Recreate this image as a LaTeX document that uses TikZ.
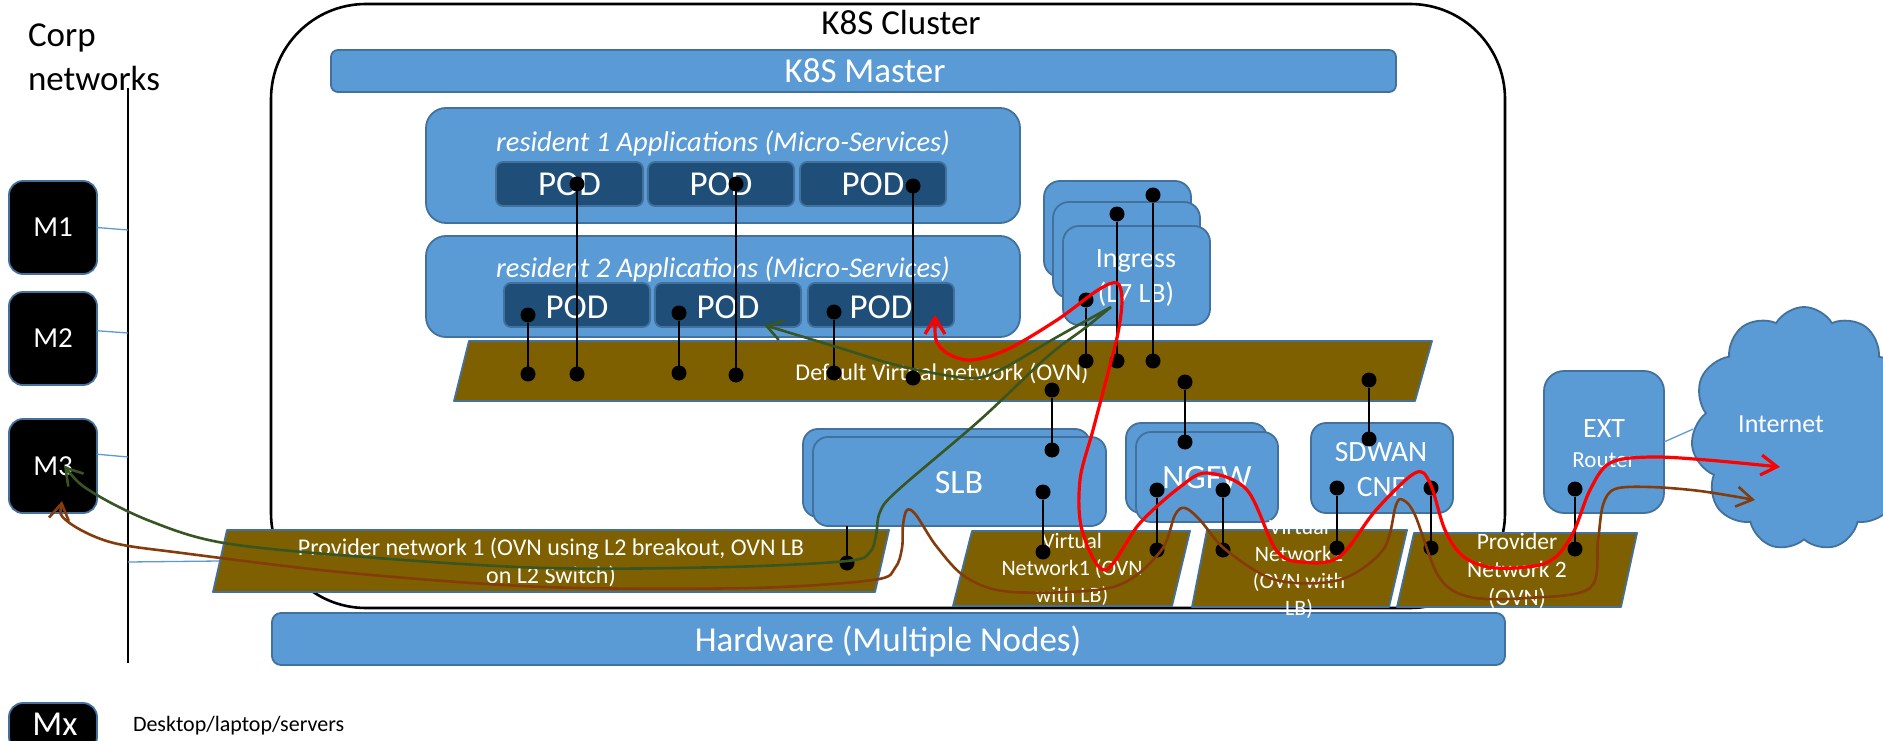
\documentclass[tikz,border=0pt]{standalone}
\usepackage{fontspec}
\setmainfont{Carlito}
\usetikzlibrary{shapes.symbols,arrows.meta}
\definecolor{blueF}{HTML}{5B9BD5}
\definecolor{blueD}{HTML}{41719C}
\definecolor{podF}{HTML}{1F4E79}
\definecolor{bandF}{HTML}{7F6000}
\definecolor{flowG}{HTML}{375623}
\definecolor{flowB}{HTML}{843C0C}
\newcommand\fsz[2]{\fontsize{#1}{#2}\selectfont}
\tikzset{
  box/.style={draw=blueD, fill=blueF, line width=1.8pt, rounded corners=#1,
    anchor=north west, inner sep=0pt, outer sep=0pt},
  podbox/.style={draw=blueD, fill=podF, line width=1.8pt, rounded corners=7pt,
    anchor=north west, inner sep=0pt, outer sep=0pt, minimum height=44pt},
  mbox/.style={draw=blueD, fill=black, line width=1.8pt, rounded corners=14pt,
    anchor=north west, inner sep=0pt, outer sep=0pt, minimum width=88pt, text=white},
  band/.style={draw=blueD, fill=bandF, line width=1.8pt, line join=round},
  lbl/.style={text=white, inner sep=0pt, outer sep=0pt},
  blk/.style={text=black, inner sep=0pt, outer sep=0pt},
  thinb/.style={draw=blueF, line width=1.3pt},
  dot/.style={circle, fill=black, inner sep=0pt, outer sep=0pt, minimum size=15pt},
  conn/.style={line width=2.6pt},
  flow/.style={line width=#1, >={Straight Barb[length=16pt,width=20pt]}, <->},
}
\begin{document}
\begin{tikzpicture}[x=1pt,y=-1pt]
\useasboundingbox (0,0) rectangle (1883,741);
\clip (0,0) rectangle (1883,741);
\fill[white] (0,0) rectangle (1883,741);

% K8S cluster frame
\node[draw=black, line width=2.6pt, rounded corners=95pt, anchor=north west, inner sep=0pt, outer sep=0pt, minimum width=1234pt, minimum height=604pt] (cluster) at (271,4) {};
\node[blk, anchor=base, font=\fsz{35}{42}] (clustert) at (901,35) {K8S Cluster};

% hardware
\node[box=9pt, minimum width=1233pt, minimum height=52pt] (hw) at (272,613) {};
\node[lbl, anchor=base, font=\fsz{35}{42}] (hwt) at (888,651) {Hardware (Multiple Nodes)};

% corp networks
\node[blk, anchor=base west, font=\fsz{35}{42}] (corp1) at (28,47) {Corp};
\node[blk, anchor=base west, font=\fsz{35}{42}] (corp2) at (28,91) {networks};
\coordinate (vtop) at (128,88);
\coordinate (vbot) at (128,663);
\draw[line width=1.3pt] (vtop) -- (vbot);

\node[mbox, minimum height=93pt, font=\fsz{29}{34}] (m1) at (9,181) {M1};
\node[mbox, minimum height=93pt, font=\fsz{29}{34}] (m2) at (9,292) {M2};
\node[mbox, minimum height=94pt, font=\fsz{29}{34}] (m3) at (9,419) {M3};
\node[mbox, minimum height=48pt] (mx) at (9,703) {};
\node[lbl, anchor=base, font=\fsz{35}{42}] (mxt) at (55,735) {Mx};
\node[blk, anchor=base west, font=\fsz{22}{26}] (legend) at (133,731) {Desktop/laptop/servers};

\coordinate (v1) at (128,230);
\coordinate (v2) at (128,333);
\coordinate (v3) at (128,457);
\coordinate (v4) at (128,562);
\coordinate (pn1w) at (220,561);
\draw[thinb] (m1.east) -- (v1);
\draw[thinb] (m2.10) -- (v2);
\draw[thinb] (m3.15) -- (v3);
\draw[thinb] (v4) -- (pn1w);

% master
\node[box=7pt, minimum width=1065pt, minimum height=42pt] (master) at (331,50) {};
\node[lbl, anchor=base, font=\fsz{35}{42}] (mastert) at (865,83) {K8S Master};

% residents
\node[box=20pt, minimum width=594pt, minimum height=115pt] (res1) at (426,108) {};
\node[lbl, anchor=base, font=\itshape\fsz{28.5}{34}] (res1t) at (723,152) {resident 1 Applications (Micro-Services)};
\node[podbox, minimum width=147pt] (p11) at (496,162) {};
\node[podbox, minimum width=146pt] (p12) at (648,162) {};
\node[podbox, minimum width=146pt] (p13) at (800,162) {};
\node[lbl, anchor=base, font=\fsz{35}{42}] (p11t) at (569.5,196) {POD};
\node[lbl, anchor=base, font=\fsz{35}{42}] (p12t) at (721,196) {POD};
\node[lbl, anchor=base, font=\fsz{35}{42}] (p13t) at (873,196) {POD};

\node[box=20pt, minimum width=594pt, minimum height=101pt] (res2) at (426,236) {};
\node[lbl, anchor=base, font=\itshape\fsz{28.5}{34}] (res2t) at (723,277) {resident 2 Applications (Micro-Services)};
\node[podbox, minimum width=146pt] (p21) at (504,283) {};
\node[podbox, minimum width=146pt] (p22) at (655,283) {};
\node[podbox, minimum width=146pt] (p23) at (808,283) {};
\node[lbl, anchor=base, font=\fsz{35}{42}] (p21t) at (577,318) {POD};
\node[lbl, anchor=base, font=\fsz{35}{42}] (p22t) at (728,318) {POD};
\node[lbl, anchor=base, font=\fsz{35}{42}] (p23t) at (881,318) {POD};

% default virtual network
\draw[band] (469,341) -- (1432,341) -- (1415,401) -- (454,401) -- cycle;
\node[lbl, anchor=base, font=\fsz{24}{28}] (dvn) at (942,380) {Default Virtual network (OVN)};

% ingress stack
\node[box=16pt, minimum width=147pt, minimum height=96pt] (ingB) at (1044,181) {};
\node[box=16pt, minimum width=147pt, minimum height=96pt] (ingM) at (1053,202) {};
\node[box=16pt, minimum width=147pt, minimum height=99pt] (ingF) at (1063,226) {};
\node[lbl, align=center, font=\fsz{28}{35}] (ingt) at (1136,277.6) {Ingress\\(L7 LB)};

% SLB, NGFW, SDWAN, EXT router
\node[box=15pt, minimum width=287pt, minimum height=88pt] (slbB) at (803,429) {};
\node[box=15pt, minimum width=293pt, minimum height=89pt] (slbF) at (813,437) {};
\node[lbl, anchor=base, font=\fsz{34}{40}] (slbt) at (959,493) {SLB};
\node[box=15pt, minimum width=141pt, minimum height=90pt] (ngB) at (1126,423) {};
\node[box=15pt, minimum width=142pt, minimum height=90pt] (ngF) at (1136,432) {};
\node[lbl, anchor=base, font=\fsz{34}{40}] (ngt) at (1207,488) {NGFW};
\node[box=15pt, minimum width=142pt, minimum height=90pt] (sdw) at (1311,423) {};
\node[lbl, align=center, font=\fsz{29.5}{35}] (sdwt) at (1381,470) {SDWAN\\CNF};
\node[box=20pt, minimum width=120pt, minimum height=142pt] (ext) at (1544,371) {};
\node[lbl, anchor=base, font=\fsz{28}{34}] (ext1) at (1604,437) {EXT};
\node[lbl, anchor=base, font=\fsz{23}{28}] (ext2) at (1604,467) {Router};

% lower networks
\draw[band] (227,530) -- (889,530) -- (875,592) -- (213,592) -- cycle;
\node[lbl, align=center, font=\fsz{24}{28}] (pn1t) at (551,562) {Provider network 1 (OVN using L2 breakout, OVN LB\\on L2 Switch)};
\draw[band] (972,531) -- (1190,531) -- (1172,606) -- (953,606) -- cycle;
\node[lbl, align=center, font=\fsz{22}{27}] (vn1t) at (1072,569) {Virtual\\Network1 (OVN\\with LB)};
\draw[band] (1207,530) -- (1407,530) -- (1389,607) -- (1192,607) -- cycle;
\node[lbl, align=center, font=\fsz{22}{27}] (vn2t) at (1299,569) {Virtual\\Network2\\(OVN with\\LB)};
\draw[band] (1414,533) -- (1637,533) -- (1621,607) -- (1397,607) -- cycle;
\node[lbl, align=center, font=\fsz{23.5}{28}] (pn2t) at (1517,570.5) {Provider\\Network 2\\(OVN)};

% internet cloud
\node[cloud, cloud puffs=11, cloud puff arc=120, aspect=0.9, draw=blueD, fill=blueF, line width=1.8pt, inner sep=0pt, minimum width=226pt, minimum height=244pt] (inet) at (1804,429) {};
\node[lbl, anchor=base, font=\fsz{26}{31}] (inett) at (1781,432) {Internet};
\draw[thinb] (ext.east) -- (inet.west);

% black connectors
\foreach \n/\x/\ya/\yb in {1/577/184/374, 2/528/315/374, 3/679/313/373, 4/736/184/375,
  5/834/312/373, 6/913/186/378, 7/1086/300/361, 8/1117/214/361, 9/1153/195/361,
  10/1052/390/450, 11/1185/382/442, 12/1369/380/439, 13/1043/492/552,
  14/1157/490/550, 15/1223/490/550, 16/1337/488/548, 17/1431/488/548, 18/1575/489/549}{
  \node[dot] (ta\n) at (\x,\ya) {};
  \node[dot] (tb\n) at (\x,\yb) {};
  \draw[conn] (ta\n) -- (tb\n);
}
\node[dot] (d19) at (847,563) {};
\draw[conn] (d19 |- slbF.south) -- (d19);

% flows
\coordinate (gA) at (64,466);
\coordinate (gH) at (1111,307);
\coordinate (gB) at (764,325);
\draw[flow=2.6pt, flowG] plot[smooth, tension=0.55] coordinates {(gA) (92,492) (150,521) (224,543) (364,557) (545,568) (727,567) (847,561) (870,552) (876,535) (880,512) (897,491) (980,420) (1047,357) (1085,328) (gH)}
  -- plot[smooth, tension=0.55] coordinates {(gH) (1057,337) (1000,370) (968,378) (900,366) (840,348) (gB)};

\coordinate (bA) at (62,501);
\coordinate (bB) at (1755,500);
\draw[flow=2.6pt, flowB] plot[smooth, tension=0.55] coordinates {(bA) (67,521) (110,542) (182,553) (350,573) (545,587) (750,588) (873,580) (895,568) (902,548) (903,525) (907,510) (916,515) (937,547) (967,578) (1013,592) (1113,587) (1160,552) (1175,515) (1185,508) (1200,520) (1226,550) (1276,580) (1339,580) (1383,550) (1396,505) (1403,500) (1415,515) (1439,577) (1470,597) (1527,598) (1590,588) (1598,540) (1603,505) (1615,489) (1650,487) (1700,491) (bB)};

\coordinate (rA) at (935,315);
\coordinate (rB) at (1780,467);
\draw[flow=3.2pt, red] plot[smooth, tension=0.55] coordinates {(rA) (940,347) (968,360) (1006,350) (1057,320) (1098,290) (1117,283) (1122,300) (1118,333) (1108,373) (1093,430) (1080,480) (1082,530) (1105,570) (1140,523) (1180,487) (1207,473) (1247,490) (1276,550) (1301,562) (1339,557) (1376,510) (1415,473) (1430,483) (1445,530) (1464,557) (1496,568) (1546,563) (1571,537) (1590,490) (1610,463) (1650,457) (1707,460) (rB)};
\end{tikzpicture}
\end{document}
